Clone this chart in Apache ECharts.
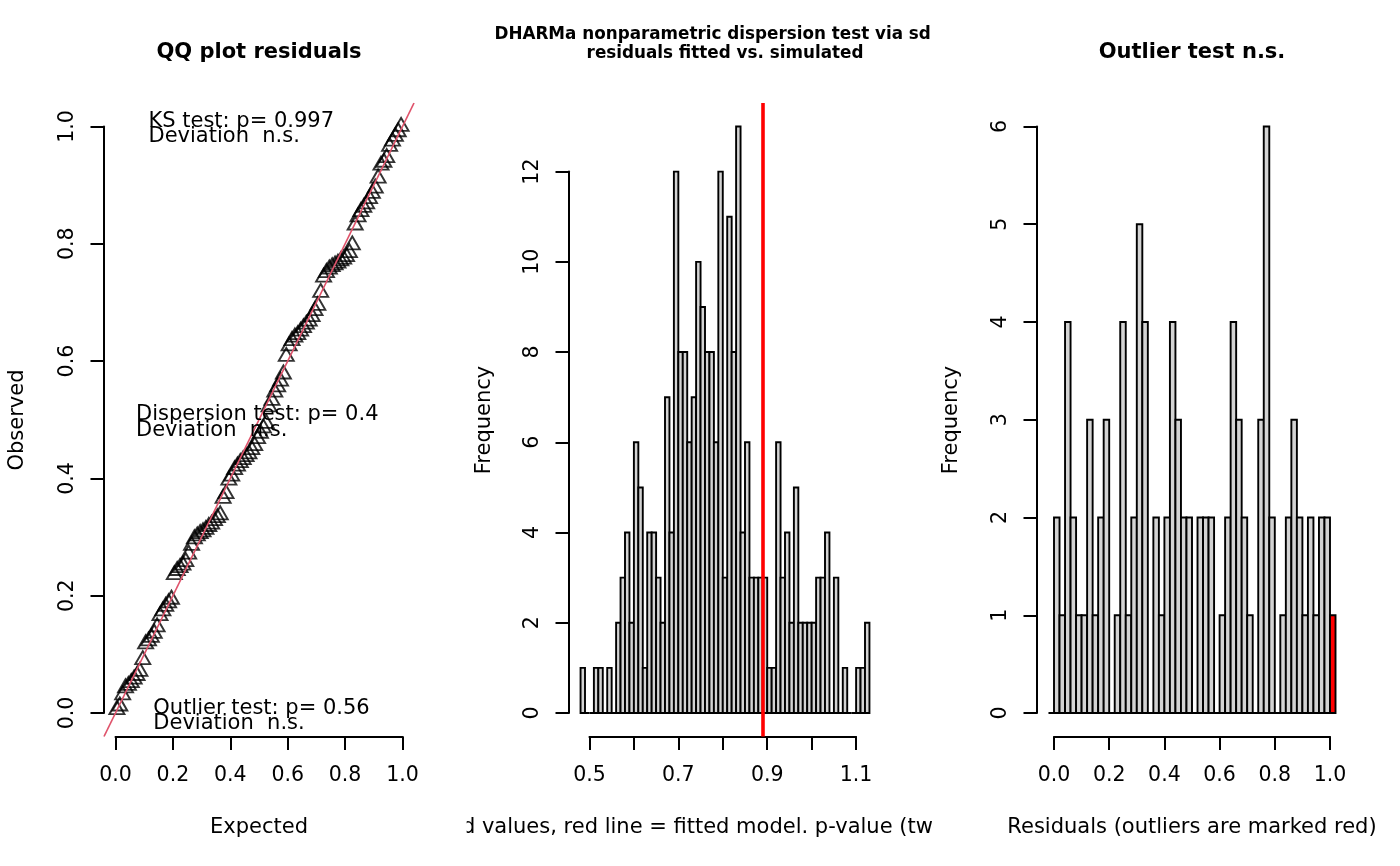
<!DOCTYPE html>
<html><head><meta charset="utf-8">
<script src="https://cdn.jsdelivr.net/npm/echarts@6/dist/echarts.min.js"></script>
<style>html,body{margin:0;padding:0;background:#fff}#c{width:1400px;height:866px}</style>
</head><body><div id="c"></div>
<script>
// ---------- QQ plot data ----------
const qqExpected = [
 0.005,0.015,0.025,0.035,0.045,0.055,0.065,0.075,0.085,0.095,
 0.105,0.115,0.125,0.135,0.145,0.155,0.165,0.175,0.185,0.195,
 0.205,0.215,0.225,0.235,0.245,0.255,0.265,0.275,0.285,0.295,
 0.305,0.315,0.325,0.335,0.345,0.355,0.365,0.375,0.385,0.395,
 0.405,0.415,0.425,0.435,0.445,0.455,0.465,0.475,0.485,0.495,
 0.505,0.515,0.525,0.535,0.545,0.555,0.565,0.575,0.585,0.595,
 0.605,0.615,0.625,0.635,0.645,0.655,0.665,0.675,0.685,0.695,
 0.705,0.715,0.725,0.735,0.745,0.755,0.765,0.775,0.785,0.795,
 0.805,0.815,0.825,0.835,0.845,0.855,0.865,0.875,0.885,0.895,
 0.905,0.915,0.925,0.935,0.945,0.955,0.965,0.975,0.985,0.995];
const qqObserved = [
 0.006,0.012,0.031,0.043,0.047,0.052,0.058,0.064,0.071,0.091,
 0.118,0.123,0.129,0.136,0.147,0.166,0.174,0.182,0.188,0.194,
 0.236,0.243,0.248,0.252,0.258,0.271,0.286,0.297,0.302,0.306,
 0.309,0.313,0.318,0.322,0.328,0.333,0.338,0.366,0.374,0.397,
 0.404,0.415,0.421,0.427,0.432,0.437,0.442,0.449,0.456,0.468,
 0.477,0.486,0.494,0.522,0.533,0.547,0.556,0.566,0.578,0.608,
 0.626,0.635,0.641,0.645,0.651,0.657,0.663,0.668,0.676,0.686,
 0.695,0.717,0.743,0.751,0.757,0.761,0.764,0.767,0.771,0.774,
 0.778,0.785,0.798,0.832,0.846,0.855,0.862,0.868,0.877,0.886,
 0.895,0.912,0.934,0.939,0.947,0.966,0.975,0.983,0.991,1.0];
const qqLineIntercept = 0, qqLineSlope = 1;
const qqTickLabels = ['0.0','0.2','0.4','0.6','0.8','1.0'];
const qqTexts = [
 ['KS test: p= 0.997','Deviation  n.s.'],
 ['Dispersion test: p= 0.4','Deviation  n.s.'],
 ['Outlier test: p= 0.56','Deviation  n.s.']];

// ---------- Dispersion histogram data ----------
const dispBreaks = [
 0.48,0.49,0.50,0.51,0.52,0.53,0.54,0.55,0.56,0.57,
 0.58,0.59,0.60,0.61,0.62,0.63,0.64,0.65,0.66,0.67,
 0.68,0.69,0.70,0.71,0.72,0.73,0.74,0.75,0.76,0.77,
 0.78,0.79,0.80,0.81,0.82,0.83,0.84,0.85,0.86,0.87,
 0.88,0.89,0.90,0.91,0.92,0.93,0.94,0.95,0.96,0.97,
 0.98,0.99,1.00,1.01,1.02,1.03,1.04,1.05,1.06,1.07,
 1.08,1.09,1.10,1.11,1.12,1.13];
const dispCounts = [
 1,0,0,1,1,0,1,0,2,3,
 4,2,6,5,1,4,4,3,2,7,
 4,12,8,8,6,7,10,9,8,8,
 6,12,3,11,8,13,4,6,3,3,
 3,3,1,1,6,3,4,2,5,2,
 2,2,2,3,3,4,0,3,0,1,
 0,0,1,1,2];
const dispObserved = 0.892;
const dispXLabels = ['0.5','','0.7','','0.9','','1.1'];
const dispYLabels = ['0','2','4','6','8','10','12'];

// ---------- Outlier histogram data ----------
const outBreaks = [
 -0.02,0.00,0.02,0.04,0.06,0.08,0.10,0.12,0.14,0.16,0.18,
 0.20,0.22,0.24,0.26,0.28,0.30,0.32,0.34,0.36,0.38,
 0.40,0.42,0.44,0.46,0.48,0.50,0.52,0.54,0.56,0.58,
 0.60,0.62,0.64,0.66,0.68,0.70,0.72,0.74,0.76,0.78,
 0.80,0.82,0.84,0.86,0.88,0.90,0.92,0.94,0.96,0.98,
 1.00,1.02];
const outCounts = [
 0,
 2,1,4,2,1,1,3,1,2,3,
 0,1,4,1,2,5,4,0,2,1,
 2,4,3,2,2,0,2,2,2,0,
 1,2,4,3,2,1,0,3,6,2,
 0,1,2,3,2,1,2,1,2,2,
 1];
const outXLabels = ['0.0','0.2','0.4','0.6','0.8','1.0'];
const outYLabels = ['0','1','2','3','4','5','6'];

// ---------- layout ----------
const FONT = "'DejaVu Sans', sans-serif";
const FS = 21;
const FS_TICK = 20.5;
const DY = 2; // vertical nudge for centred text
function ext(a, b){ const d = (b - a) * 0.04; return [a - d, b + d]; }
const panels = [
  {left:104, top:103, width:310, height:633.5, xr:ext(0,1), yr:ext(0,1),
   xt:[0,1,0.2], yt:[0,1,0.2], xl:qqTickLabels, yl:qqTickLabels},
  {left:569, top:103, width:312, height:633.5, xr:ext(dispBreaks[0], dispBreaks[dispBreaks.length-1]), yr:ext(0,13),
   xt:[0.5,1.1,0.1], yt:[0,12,2], xl:dispXLabels, yl:dispYLabels},
  {left:1037, top:103, width:310, height:633.5, xr:ext(outBreaks[0], outBreaks[outBreaks.length-1]), yr:ext(0,6),
   xt:[0,1,0.2], yt:[0,6,1], xl:outXLabels, yl:outYLabels}
];

const grids = [], xAxes = [], yAxes = [];
panels.forEach((p, i) => {
  grids.push({left:p.left, top:p.top, width:p.width, height:p.height, outerBoundsMode:'none'});
  xAxes.push({type:'value', gridIndex:i, min:p.xr[0], max:p.xr[1], show:false});
  yAxes.push({type:'value', gridIndex:i, min:p.yr[0], max:p.yr[1], show:false});
});
const axisLineStyle = {color:'#000', width:2};
panels.forEach((p, i) => {
  const sx = p.width / (p.xr[1] - p.xr[0]);
  const sy = p.height / (p.yr[1] - p.yr[0]);
  const gl = p.left + (p.xt[0] - p.xr[0]) * sx;
  const gw = (p.xt[1] - p.xt[0]) * sx;
  const gt = p.top + (p.yr[1] - p.yt[1]) * sy;
  const gh = (p.yt[1] - p.yt[0]) * sy;
  grids.push({left:gl, top:gt, width:gw, height:gh, outerBoundsMode:'none'});
  const gi = 3 + i;
  xAxes.push({type:'value', gridIndex:gi, min:p.xt[0], max:p.xt[1], interval:p.xt[2],
    position:'bottom', offset:(p.yt[0] - p.yr[0]) * sy,
    axisLine:{show:true, onZero:false, lineStyle:axisLineStyle},
    axisTick:{show:true, inside:false, length:13.5, lineStyle:axisLineStyle},
    splitLine:{show:false},
    axisLabel:{show:true, margin:29, color:'#000', fontSize:FS_TICK, fontFamily:FONT,
      formatter:(v) => p.xl[Math.round((v - p.xt[0]) / p.xt[2])] || ''}
  });
  yAxes.push({type:'value', gridIndex:gi, min:p.yt[0], max:p.yt[1], interval:p.yt[2],
    position:'left', offset:(p.xt[0] - p.xr[0]) * sx,
    axisLine:{show:true, onZero:false, lineStyle:axisLineStyle},
    axisTick:{show:true, inside:false, length:13.5, lineStyle:axisLineStyle},
    splitLine:{show:false},
    axisLabel:{show:true, rotate:90, margin:26, color:'#000', fontSize:FS_TICK, fontFamily:FONT,
      formatter:(v) => p.yl[Math.round((v - p.yt[0]) / p.yt[2])] || ''}
  });
});

function histRender(params, api){
  const p0 = api.coord([api.value(0), api.value(2)]);
  const p1 = api.coord([api.value(1), 0]);
  return {type:'rect', shape:{x:p0[0], y:p0[1], width:p1[0]-p0[0], height:p1[1]-p0[1]},
    style:{fill:api.visual('color'), stroke:'#000', lineWidth:1.9}};
}

const qqLine = [panels[0].xr[0], panels[0].xr[1]].map(x => [x, qqLineIntercept + qqLineSlope * x]);

const series = [
  {type:'scatter', xAxisIndex:0, yAxisIndex:0, silent:true, z:2,
   data: qqExpected.map((x, i) => [x, qqObserved[i]]),
   symbol:'triangle', symbolSize:[15,13], symbolOffset:[0,-2],
   itemStyle:{color:'rgba(0,0,0,0)', borderColor:'#000', borderWidth:1.9}},
  {type:'line', xAxisIndex:0, yAxisIndex:0, silent:true, z:3, data:qqLine,
   showSymbol:false, symbol:'none', lineStyle:{color:'#DF536B', width:1.7}},
  {type:'custom', xAxisIndex:1, yAxisIndex:1, silent:true, renderItem:histRender,
   itemStyle:{color:'#D3D3D3'}, encode:{x:[0,1], y:2},
   data: dispCounts.map((c, i) => [dispBreaks[i], dispBreaks[i+1], c]),
   markLine:{silent:true, symbol:['none','none'], label:{show:false}, z:5,
     lineStyle:{color:'#FF0000', width:3.6, type:'solid'}, data:[{xAxis:dispObserved}]}},
  {type:'custom', xAxisIndex:2, yAxisIndex:2, silent:true, renderItem:histRender,
   itemStyle:{color:'#D3D3D3'}, encode:{x:[0,1], y:2},
   data: outCounts.map((c, i) => ({value:[outBreaks[i], outBreaks[i+1], c],
     itemStyle:{color:(i === 0 || i === outCounts.length - 1) ? '#FF0000' : '#D3D3D3'}}))}
];

function txt(x, y, text, o){
  o = o || {};
  const al = o.align || 'center';
  const rot = o.rot || 0;
  return {type:'text', x:x + (rot ? DY : 0), y:y + (rot ? 0 : DY), rotation:rot, z:o.z || 30, silent:true,
    style:{text:text, fill:'#000', fontSize:o.fs || FS, fontFamily:FONT, fontWeight:o.bold ? 'bold' : 'normal',
      align:al, verticalAlign:'middle', textAlign:al, textVerticalAlign:'middle'}};
}
function whiteRect(x0, y0, x1, y1){
  return {type:'rect', z:20, silent:true, shape:{x:x0, y:y0, width:x1-x0, height:y1-y0}, style:{fill:'#fff'}};
}
const c1 = panels[0].left + panels[0].width/2;
const c2 = panels[1].left + panels[1].width/2;
const c3 = panels[2].left + panels[2].width/2;
const figEdge1 = 1400/3, figEdge2 = 2800/3;
const elements = [
  txt(c1, 51, 'QQ plot residuals', {bold:true}),
  txt(c2, 33, 'DHARMa nonparametric dispersion test via sd of', {bold:true, fs:16.8, z:10}),
  txt(c2, 52, 'residuals fitted vs. simulated', {bold:true, fs:16.8, z:10}),
  txt(c3, 51, 'Outlier test n.s.', {bold:true}),
  whiteRect(figEdge2, 12, figEdge2 + 70, 72),
  txt(c1, 826, 'Expected'),
  txt(16, 420, 'Observed', {rot:Math.PI/2}),
  txt(483, 420, 'Frequency', {rot:Math.PI/2}),
  txt(950, 420, 'Frequency', {rot:Math.PI/2}),
  txt(c2, 826, 'Simulated values, red line = fitted model. p-value (two.sided) = 0.4', {z:10}),
  whiteRect(320, 800, figEdge1, 854),
  whiteRect(figEdge2, 800, 1120, 854),
  txt(c3, 826, 'Residuals (outliers are marked red)'),
  txt(148.5, 119.7, qqTexts[0][0], {align:'left'}),
  txt(148.5, 135, qqTexts[0][1], {align:'left'}),
  txt(136, 413, qqTexts[1][0], {align:'left'}),
  txt(136, 428.3, qqTexts[1][1], {align:'left'}),
  txt(153.3, 707, qqTexts[2][0], {align:'left'}),
  txt(153.3, 721.7, qqTexts[2][1], {align:'left'})
];

const chart = echarts.init(document.getElementById('c'), null, {renderer:'canvas'});
chart.setOption({
  animation:false,
  backgroundColor:'#ffffff',
  grid:grids, xAxis:xAxes, yAxis:yAxes, series:series,
  graphic:{elements:elements}
});
</script></body></html>
